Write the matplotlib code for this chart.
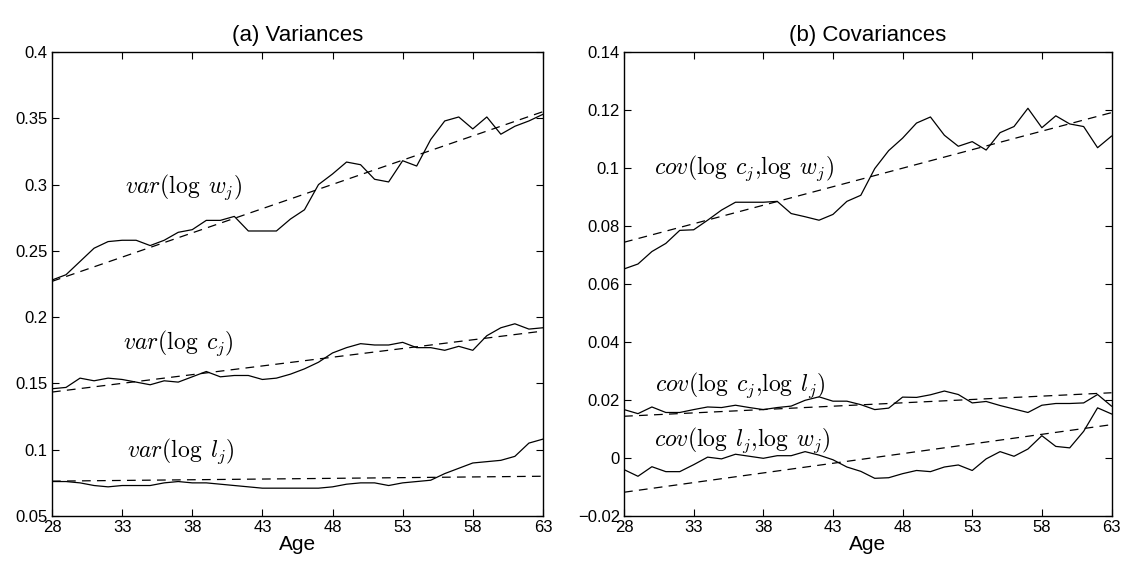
"""Age profiles of cross-sectional variances and covariances."""

import matplotlib
matplotlib.use("Agg")
import matplotlib.pyplot as plt
from matplotlib.ticker import FuncFormatter

plt.rcParams.update({
    "font.family": "Liberation Sans",
    "mathtext.fontset": "cm",
    "font.size": 12,
    "xtick.direction": "in",
    "ytick.direction": "in",
    "xtick.top": True,
    "ytick.right": True,
    "axes.linewidth": 1.0,
})

ages = list(range(28, 64))

var_w = [0.228, 0.232, 0.242, 0.252, 0.257, 0.258, 0.258, 0.254, 0.258, 0.264,
         0.266, 0.273, 0.273, 0.276, 0.265, 0.265, 0.265, 0.274, 0.281, 0.300,
         0.308, 0.317, 0.315, 0.304, 0.302, 0.318, 0.314, 0.334, 0.348, 0.351,
         0.342, 0.351, 0.338, 0.344, 0.348, 0.353]
var_c = [0.146, 0.147, 0.154, 0.152, 0.154, 0.153, 0.151, 0.149, 0.152, 0.151,
         0.155, 0.159, 0.155, 0.156, 0.156, 0.153, 0.154, 0.157, 0.161, 0.166,
         0.173, 0.177, 0.180, 0.179, 0.179, 0.181, 0.177, 0.177, 0.175, 0.178,
         0.175, 0.186, 0.192, 0.195, 0.191, 0.192]
var_l = [0.076, 0.076, 0.075, 0.073, 0.072, 0.073, 0.073, 0.073, 0.075, 0.076,
         0.075, 0.075, 0.074, 0.073, 0.072, 0.071, 0.071, 0.071, 0.071, 0.071,
         0.072, 0.074, 0.075, 0.075, 0.073, 0.075, 0.076, 0.077, 0.082, 0.086,
         0.090, 0.091, 0.092, 0.095, 0.105, 0.108]

cov_cw = [0.0652, 0.0669, 0.0712, 0.0740, 0.0785, 0.0787, 0.0820, 0.0855, 0.0882, 0.0882,
          0.0882, 0.0885, 0.0843, 0.0832, 0.0820, 0.0840, 0.0885, 0.0906, 0.0998, 0.1060,
          0.1103, 0.1155, 0.1176, 0.1113, 0.1075, 0.1091, 0.1062, 0.1122, 0.1143, 0.1206,
          0.1139, 0.1180, 0.1152, 0.1143, 0.1070, 0.1110]
cov_cl = [0.0167, 0.0153, 0.0176, 0.0157, 0.0157, 0.0167, 0.0176, 0.0174, 0.0182, 0.0174,
          0.0167, 0.0174, 0.0179, 0.0199, 0.0211, 0.0196, 0.0196, 0.0184, 0.0167, 0.0172,
          0.0210, 0.0209, 0.0218, 0.0231, 0.0219, 0.0190, 0.0195, 0.0181, 0.0169, 0.0157,
          0.0182, 0.0188, 0.0188, 0.0190, 0.0219, 0.0179]
cov_lw = [-0.0040, -0.0063, -0.0030, -0.0047, -0.0047, -0.0023, 0.0003, -0.0003, 0.0013, 0.0006,
          -0.0001, 0.0008, 0.0008, 0.0022, 0.0010, -0.0006, -0.0031, -0.0046, -0.0070, -0.0068,
          -0.0054, -0.0043, -0.0047, -0.0031, -0.0024, -0.0043, -0.0003, 0.0022, 0.0006, 0.0031,
          0.0077, 0.0040, 0.0035, 0.0092, 0.0173, 0.0152]

# dashed linear trends, read at the two ends of the age range
trend_ages = [28, 63]
trend_var_w = [0.227, 0.355]
trend_var_c = [0.1435, 0.1895]
trend_var_l = [0.0763, 0.0800]
trend_cov_cw = [0.0744, 0.1191]
trend_cov_cl = [0.0144, 0.0225]
trend_cov_lw = [-0.0118, 0.0115]

xticks = [28, 33, 38, 43, 48, 53, 58, 63]
yticks_var = [0.05, 0.1, 0.15, 0.2, 0.25, 0.3, 0.35, 0.4]
yticks_cov = [-0.02, 0, 0.02, 0.04, 0.06, 0.08, 0.1, 0.12, 0.14]


def _fmt(v, pos):
    s = f"{v:.2f}".rstrip("0").rstrip(".")
    return "0" if s in ("0", "-0") else s.replace("-", "\u2212")


fig = plt.figure(figsize=(11.25, 5.71), dpi=100)
ax1 = fig.add_axes([0.0462, 0.0963, 0.4364, 0.8126])
ax2 = fig.add_axes([0.5547, 0.0963, 0.4333, 0.8126])

dash = (0, (7, 5))
lw = 0.9
fs_lab = 17

# Panel (a): variances
for series, trend in [(var_w, trend_var_w), (var_c, trend_var_c), (var_l, trend_var_l)]:
    ax1.plot(ages, series, color="black", lw=lw)
    ax1.plot(trend_ages, trend, color="black", lw=lw, linestyle=dash)
ax1.text(37.4, 0.298, r"$var(\log\;w_j)$", fontsize=fs_lab, ha="center", va="center")
ax1.text(37.0, 0.180, r"$var(\log\;c_j)$", fontsize=fs_lab, ha="center", va="center")
ax1.text(37.2, 0.0986, r"$var(\log\;l_j)$", fontsize=fs_lab, ha="center", va="center")
ax1.set_xlim(28, 63)
ax1.set_ylim(0.05, 0.4)
ax1.set_yticks(yticks_var)
ax1.set_title("(a) Variances", fontsize=16, pad=8)

# Panel (b): covariances
for series, trend in [(cov_cw, trend_cov_cw), (cov_cl, trend_cov_cl), (cov_lw, trend_cov_lw)]:
    ax2.plot(ages, series, color="black", lw=lw)
    ax2.plot(trend_ages, trend, color="black", lw=lw, linestyle=dash)
ax2.text(36.6, 0.100, r"$cov(\log\;c_j{,}\log\;w_j)$", fontsize=fs_lab, ha="center", va="center")
ax2.text(36.3, 0.0252, r"$cov(\log\;c_j{,}\log\;l_j)$", fontsize=fs_lab, ha="center", va="center")
ax2.text(36.5, 0.0062, r"$cov(\log\;l_j{,}\log\;w_j)$", fontsize=fs_lab, ha="center", va="center")
ax2.set_xlim(28, 63)
ax2.set_ylim(-0.02, 0.14)
ax2.set_yticks(yticks_cov)
ax2.set_title("(b) Covariances", fontsize=16, pad=8)

for ax in (ax1, ax2):
    ax.set_xticks(xticks)
    ax.yaxis.set_major_formatter(FuncFormatter(_fmt))
    ax.tick_params(labelsize=12, length=5, width=0.8, pad=3)
    ax.set_xlabel("Age", fontsize=15, labelpad=0)

plt.savefig("out.png", dpi=100)
plt.close()
